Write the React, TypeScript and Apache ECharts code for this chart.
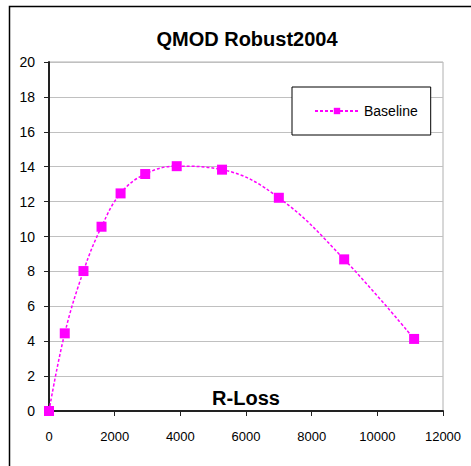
import React, { useEffect, useRef } from "react";
import * as echarts from "echarts";

const rLoss = [0, 480, 1050, 1600, 2180, 2930, 3890, 5270, 7000, 8990, 11120];
const baseline = [0, 4.45, 8.02, 10.56, 12.47, 13.58, 14.03, 13.83, 12.22, 8.69, 4.13];
const seriesName = "Baseline";
const titleText = "QMOD Robust2004";
const xTitle = "R-Loss";

export default function App() {
  const ref = useRef<HTMLDivElement>(null);
  useEffect(() => {
    const chart = echarts.init(ref.current!, null, { renderer: "svg" });
    const font = "Arial, 'Liberation Sans', sans-serif";
    chart.setOption({
      animation: false,
      backgroundColor: "#fff",
      title: {
        text: titleText,
        left: 242,
        top: 24,
        textAlign: "center",
        textStyle: { fontFamily: font, fontSize: 20, fontWeight: "bold", color: "#000" },
      },
      graphic: [
        {
          type: "rect",
          shape: { x: 9.5, y: 6.5, width: 600, height: 600 },
          style: { fill: "none", stroke: "#000", lineWidth: 1.5 },
          silent: true,
          z: -1,
        },
        {
          type: "text",
          x: 246,
          y: 398,
          style: {
            text: xTitle,
            align: "center",
            verticalAlign: "middle",
            fontFamily: font,
            fontSize: 20,
            fontWeight: "bold",
            fill: "#000",
          },
          z: 10,
        },
      ],
      legend: {
        left: 292,
        top: 87,
        orient: "vertical",
        backgroundColor: "#fff",
        borderColor: "#000",
        borderWidth: 1,
        padding: [17, 13, 17, 22],
        itemWidth: 44,
        itemHeight: 8,
        itemGap: 7,
        textStyle: { fontFamily: font, fontSize: 14, color: "#000" },
        data: [seriesName],
      },
      grid: {
        left: 49,
        right: 28,
        top: 62,
        bottom: 55,
        show: true,
        borderColor: "#b0b0b0",
        borderWidth: 1,
      },
      xAxis: {
        type: "value",
        min: 0,
        max: 12000,
        interval: 2000,
        axisLine: { lineStyle: { color: "#222", width: 2 } },
        axisTick: { show: true, length: 5, lineStyle: { color: "#222" } },
        axisLabel: {
          margin: 19,
          fontFamily: font,
          fontSize: 13,
          color: "#000",
          formatter: (v: number) => String(v),
        },
        splitLine: { show: false },
      },
      yAxis: {
        type: "value",
        min: 0,
        max: 20,
        interval: 2,
        axisLine: { show: true, lineStyle: { color: "#222", width: 2 } },
        axisTick: { show: true, length: 5, lineStyle: { color: "#222" } },
        axisLabel: { margin: 14, fontFamily: font, fontSize: 14, color: "#000" },
        splitLine: { show: true, lineStyle: { color: "#c0c0c0", width: 1 } },
      },
      series: [
        {
          name: seriesName,
          type: "line",
          data: rLoss.map((x, i) => [x, baseline[i]]),
          smooth: 0.4,
          symbol: "rect",
          symbolSize: 10,
          itemStyle: { color: "#ff00ff" },
          lineStyle: { color: "#ff00ff", width: 1.5, type: [3, 2] },
          z: 5,
        },
      ],
    });
    return () => chart.dispose();
  }, []);
  return <div ref={ref} style={{ width: 471, height: 466, position: "absolute", left: 0, top: 0 }} />;
}
